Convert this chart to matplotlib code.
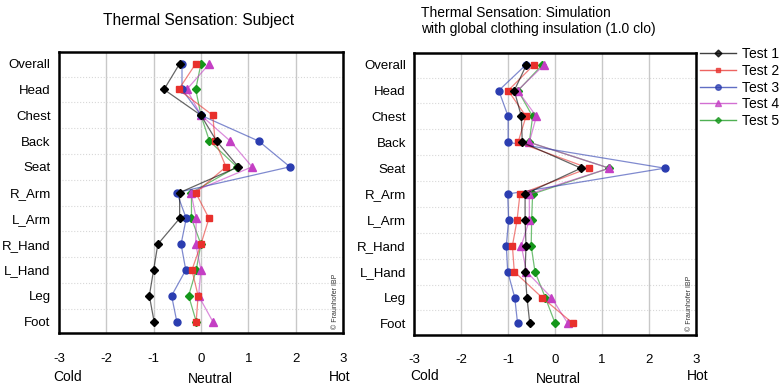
import matplotlib.pyplot as plt
from matplotlib.lines import Line2D
import numpy as np

plt.rcParams['font.family'] = ['Liberation Sans', 'DejaVu Sans']

categories = ["Overall", "Head", "Chest", "Back", "Seat", "R_Arm",
              "L_Arm", "R_Hand", "L_Hand", "Leg", "Foot"]
tests = ["Test 1", "Test 2", "Test 3", "Test 4", "Test 5"]

# subject votes
subj_t1 = [-0.45, -0.78, 0.00, 0.33, 0.79, -0.45, -0.45, -0.91, -1.00, -1.09, -0.99]
subj_t2 = [-0.11, -0.47, 0.25, 0.30, 0.53, -0.11, 0.17, 0.00, -0.19, -0.06, -0.10]
subj_t3 = [-0.40, -0.40, 0.00, 1.22, 1.88, -0.51, -0.31, -0.42, -0.32, -0.62, -0.51]
subj_t4 = [0.18, -0.30, 0.00, 0.62, 1.08, -0.21, -0.10, -0.11, 0.00, -0.05, 0.25]
subj_t5 = [0.00, -0.11, 0.00, 0.18, 0.76, -0.20, -0.20, 0.00, -0.10, -0.26, -0.10]

# simulation (1.0 clo)
sim_t1 = [-0.61, -0.87, -0.72, -0.70, 0.55, -0.64, -0.64, -0.62, -0.64, -0.60, -0.54]
sim_t2 = [-0.45, -1.00, -0.62, -0.79, 0.71, -0.75, -0.81, -0.91, -0.87, -0.28, 0.38]
sim_t3 = [-0.62, -1.20, -1.00, -1.00, 2.33, -1.01, -0.99, -1.04, -1.01, -0.86, -0.80]
sim_t4 = [-0.23, -0.80, -0.40, -0.55, 1.15, -0.55, -0.55, -0.72, -0.61, -0.08, 0.27]
sim_t5 = [-0.27, -0.79, -0.48, -0.55, 1.15, -0.48, -0.50, -0.51, -0.43, -0.21, 0.00]

xticks = [-3, -2, -1, 0, 1, 2, 3]

colors = ["black", "#e8302c", "#2b3db0", "#c43fc4", "#14961a"]
markers = ["D", "s", "o", "^", "D"]
msizes = [4.5, 4.5, 5, 5.5, 4]


def draw_panel(ax, series):
    y = np.arange(len(categories))
    for i in reversed(range(len(series))):
        ax.plot(series[i], y, color=colors[i], lw=0.9, alpha=0.6, zorder=3 + (5 - i))
        ax.plot(series[i], y, ls="none", marker=markers[i], ms=msizes[i],
                color=colors[i], zorder=4 + (5 - i), label=tests[i])
    ax.set_xlim(-3, 3)
    ax.set_ylim(len(categories) - 0.55, -0.45)
    ax.set_xticks(xticks)
    ax.set_xticklabels([str(t) for t in xticks], fontsize=9.5)
    ax.set_yticks(y)
    ax.set_yticklabels(categories, fontsize=9.5)
    ax.set_yticks(np.arange(len(categories) - 1) + 0.5, minor=True)
    ax.tick_params(axis="both", length=0, pad=6)
    ax.tick_params(axis="x", pad=14)
    ax.tick_params(which="minor", length=0)
    ax.grid(axis="x", color="#c8c8c8", lw=1)
    ax.grid(axis="y", which="minor", color="#d8d8d8", lw=0.8, ls=":")
    for s in ax.spines.values():
        s.set_linewidth(1.8)
    ax.text(0.975, 0.015, "© Fraunhofer IBP", transform=ax.transAxes,
            rotation=90, fontsize=5, ha="center", va="bottom", color="#333333")


fig = plt.figure(figsize=(7.8, 3.86), dpi=100)
ax1 = fig.add_axes([0.0756, 0.137, 0.364, 0.728])
ax2 = fig.add_axes([0.531, 0.132, 0.3615, 0.7306])

draw_panel(ax1, [subj_t1, subj_t2, subj_t3, subj_t4, subj_t5])
draw_panel(ax2, [sim_t1, sim_t2, sim_t3, sim_t4, sim_t5])

fig.text(199 / 780, 1 - 20 / 386, "Thermal Sensation: Subject", fontsize=11.2,
         ha="center", va="center")
fig.text(421 / 780, 1 - 21 / 386,
         "Thermal Sensation: Simulation\nwith global clothing insulation (1.0 clo)",
         fontsize=10, ha="left", va="center", linespacing=1.25)

# scale words under the axes
fig.text(68 / 780, 1 - 377 / 386, "Cold", fontsize=10, ha="center", va="center")
fig.text(210 / 780, 1 - 379 / 386, "Neutral", fontsize=10, ha="center", va="center")
fig.text(340 / 780, 1 - 377 / 386, "Hot", fontsize=10, ha="center", va="center")
fig.text(425 / 780, 1 - 376 / 386, "Cold", fontsize=10, ha="center", va="center")
fig.text(558 / 780, 1 - 379 / 386, "Neutral", fontsize=10, ha="center", va="center")
fig.text(698 / 780, 1 - 376 / 386, "Hot", fontsize=10, ha="center", va="center")

leg_handles = [Line2D([], [], color=colors[i], marker=markers[i], ms=msizes[i] - 1,
                      markerfacecolor=colors[i], markeredgecolor=colors[i], lw=1)
               for i in range(5)]
for h in leg_handles:
    h.set_alpha(0.75)
fig.legend(leg_handles, tests, loc="upper left", bbox_to_anchor=(700 / 780, 1 - 47 / 386),
           frameon=False, fontsize=10, handlelength=2.6, handletextpad=0.4,
           labelspacing=0.2, borderaxespad=0, borderpad=0)

fig.savefig("out.png", dpi=100)
